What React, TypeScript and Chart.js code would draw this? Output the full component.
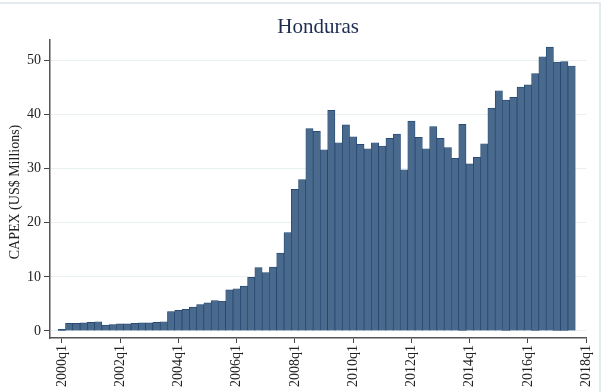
import { useEffect, useRef } from "react";
import { Chart, registerables } from "chart.js";

Chart.register(...registerables);

// Quarterly CAPEX, US$ millions, 2000q1 .. 2017q3
const capex = [
  0.3, 1.4, 1.4, 1.5, 1.6, 1.7, 1.1, 1.2, 1.3, 1.3, 1.4, 1.5, 1.5, 1.6, 1.7,
  3.6, 3.8, 4.0, 4.4, 4.9, 5.2, 5.6, 5.5,
  7.6, 7.8, 8.3, 9.9, 11.7, 10.8, 11.8, 14.4, 18.2,
  26.2, 28.0, 37.4, 36.9, 33.5, 40.8, 34.8, 38.1, 35.9, 34.5, 33.7, 34.8, 34.2, 35.6, 36.4, 29.8,
  38.8, 35.8, 33.7, 37.8, 35.6, 33.9, 31.9, 38.2, 30.9, 32.1, 34.6, 41.2,
  44.4, 42.7, 43.2, 45.1, 45.5, 47.6, 50.7, 52.5, 49.7, 49.8, 49.0,
];

// quarter index (0 = 2000q1) of each labelled x tick
const xTickQuarters = [0, 8, 16, 24, 32, 40, 48, 56, 64, 72];
const xTickLabels = [
  "2000q1", "2002q1", "2004q1", "2006q1", "2008q1",
  "2010q1", "2012q1", "2014q1", "2016q1", "2018q1",
];
const yTicks = [0, 10, 20, 30, 40, 50];

const chartTitle = "Honduras";
const yTitle = "CAPEX (US$ Millions)";

const SERIF = '"Liberation Serif", "DejaVu Serif", serif';

export default function App() {
  const canvasRef = useRef<HTMLCanvasElement>(null);

  useEffect(() => {
    document.body.style.margin = "0";
    const canvas = canvasRef.current;
    if (!canvas) return;

    const points = capex.map((v, i) => ({ x: i, y: v }));

    const decor = {
      id: "decor",
      beforeDraw(chart: any) {
        const { ctx, width, height } = chart;
        ctx.save();
        ctx.fillStyle = "#ffffff";
        ctx.fillRect(0, 0, width, height);
        // light outer frame of the graph region
        ctx.strokeStyle = "#e3ebee";
        ctx.lineWidth = 2;
        ctx.beginPath();
        ctx.moveTo(0, 3);
        ctx.lineTo(600, 3);
        ctx.lineTo(600, height);
        ctx.stroke();
        ctx.restore();
      },
      afterDraw(chart: any) {
        const { ctx, chartArea } = chart;
        ctx.save();
        ctx.fillStyle = "#1f2c52";
        ctx.font = `21px ${SERIF}`;
        ctx.textAlign = "center";
        ctx.textBaseline = "middle";
        ctx.fillText(chartTitle, (chartArea.left + chartArea.right) / 2, 27);

        ctx.fillStyle = "#222222";
        ctx.font = `14px ${SERIF}`;
        ctx.translate(15, 192);
        ctx.rotate(-Math.PI / 2);
        ctx.fillText(yTitle, 0, 0);
        ctx.restore();
      },
    };

    const chart = new Chart(canvas, {
      type: "bar",
      data: {
        datasets: [
          {
            data: points as any,
            backgroundColor: "#496a8d",
            borderColor: "#1f426c",
            borderWidth: 0.7,
            barPercentage: 1,
            categoryPercentage: 1,
          },
        ],
      },
      options: {
        animation: false,
        responsive: false,
        layout: { padding: { top: 40, right: 14, left: 0, bottom: 0 } },
        plugins: {
          legend: { display: false },
          tooltip: { enabled: false },
        },
        scales: {
          x: {
            type: "linear",
            offset: false,
            min: -1.63,
            max: 72,
            afterBuildTicks: (s: any) => {
              s.ticks = xTickQuarters.map((v) => ({ value: v }));
            },
            afterFit: (s: any) => {
              s.height = 54;
            },
            ticks: {
              autoSkip: false,
              minRotation: 90,
              maxRotation: 90,
              padding: 2,
              color: "#222222",
              font: { family: SERIF, size: 14 },
              callback: (v: any) => {
                const i = xTickQuarters.indexOf(Number(v));
                return i >= 0 ? xTickLabels[i] : "";
              },
            },
            grid: {
              offset: false,
              drawOnChartArea: false,
              drawTicks: true,
              tickLength: 5,
              tickColor: "#444444",
            },
            border: { color: "#555555", width: 1.5 },
          },
          y: {
            min: -1.3,
            max: 53.8,
            afterBuildTicks: (s: any) => {
              s.ticks = yTicks.map((v) => ({ value: v }));
            },
            afterFit: (s: any) => {
              s.width = 50;
            },
            ticks: {
              padding: 3,
              color: "#222222",
              font: { family: SERIF, size: 14 },
            },
            grid: {
              color: "#e8f0f1",
              lineWidth: 1,
              tickLength: 6,
              tickColor: "#444444",
            },
            border: { color: "#555555", width: 1.5 },
          },
        },
      },
      plugins: [decor],
    });

    return () => chart.destroy();
  }, []);

  return (
    <canvas
      ref={canvasRef}
      width={605}
      height={392}
      style={{ display: "block", width: 605, height: 392 }}
    />
  );
}
